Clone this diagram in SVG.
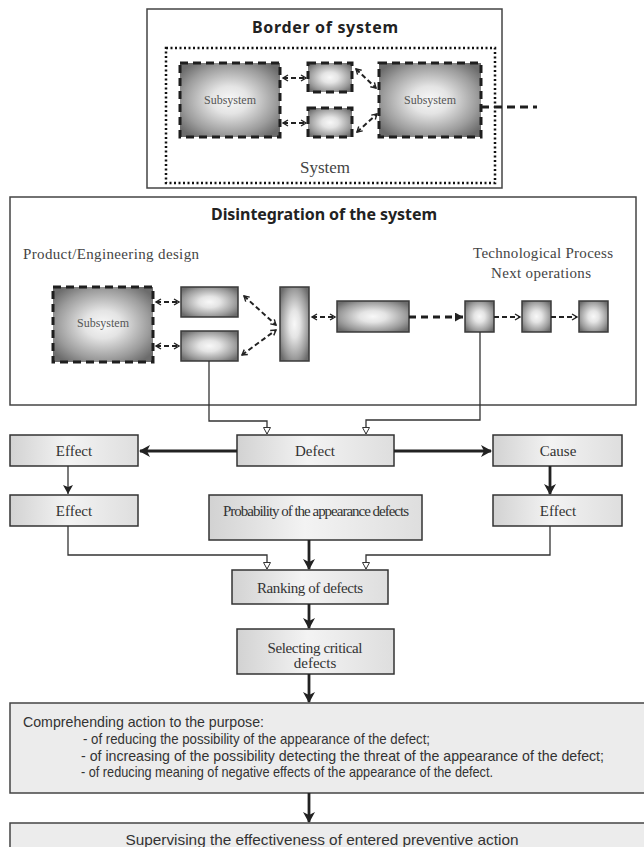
<svg xmlns="http://www.w3.org/2000/svg" width="644" height="847" viewBox="0 0 644 847">
<style>
.frame{fill:#fff;stroke:#444;stroke-width:1.5}
.title{font-family:"Noto Sans","DejaVu Sans",sans-serif;font-weight:bold;font-size:16px;fill:#222;text-anchor:middle}
.serif{font-family:"Liberation Serif","Times New Roman",serif;fill:#444}
.sub{font-family:"Liberation Serif",serif;font-size:12px;fill:#555;text-anchor:middle}
.dsh{fill:url(#gShade);stroke:#1e1e1e;stroke-width:3;stroke-dasharray:8 5}
.sol{fill:url(#gShade);stroke:#3a3a3a;stroke-width:1.5}
.box{fill:url(#gBox);stroke:#333;stroke-width:1.5}
.lbl{font-family:"Liberation Serif",serif;font-size:15px;fill:#333;text-anchor:middle}
.big{fill:#ececec;stroke:#444;stroke-width:1.5}
.sans{font-family:"Liberation Sans",Arial,sans-serif;font-size:14.5px;fill:#333}
.dl{fill:none;stroke:#222;stroke-width:2;stroke-dasharray:5 3}
.thick{fill:none;stroke:#222;stroke-width:2.8}
.thin{fill:none;stroke:#333;stroke-width:1.3}
</style>
<defs>
<radialGradient id="gShade" cx="0.5" cy="0.5" r="0.62">
<stop offset="0" stop-color="#f8f8f8"/>
<stop offset="0.3" stop-color="#e4e4e4"/>
<stop offset="0.75" stop-color="#9c9c9c"/>
<stop offset="1" stop-color="#6c6c6c"/>
</radialGradient>
<linearGradient id="gBox" x1="0" y1="0" x2="1" y2="0">
<stop offset="0" stop-color="#d2d2d2"/>
<stop offset="0.45" stop-color="#f3f3f3"/>
<stop offset="1" stop-color="#dedede"/>
</linearGradient>
<marker id="ah" markerUnits="userSpaceOnUse" markerWidth="12" markerHeight="12" refX="10" refY="6" orient="auto">
<path d="M0,0 L11,6 L0,12 L3,6 z" fill="#222"/>
</marker>
<marker id="ahs" markerUnits="userSpaceOnUse" markerWidth="10" markerHeight="10" refX="9" refY="5" orient="auto">
<path d="M0,0 L9,5 L0,10 L2,5 z" fill="#222"/>
</marker>
<marker id="open" markerUnits="userSpaceOnUse" markerWidth="8" markerHeight="8" refX="7" refY="4" orient="auto">
<path d="M0.5,0.5 L7,4 L0.5,7.5 z" fill="#fff" stroke="#333" stroke-width="1"/>
</marker>
<marker id="chev" markerUnits="userSpaceOnUse" markerWidth="8" markerHeight="8" refX="6" refY="4" orient="auto-start-reverse">
<path d="M1,1 L6,4 L1,7" fill="none" stroke="#222" stroke-width="1.4"/>
</marker>
<marker id="tri" markerUnits="userSpaceOnUse" markerWidth="9" markerHeight="9" refX="8" refY="4.5" orient="auto">
<path d="M0,0 L8,4.5 L0,9 z" fill="#222"/>
</marker>
</defs>

<g id="border-of-system">
<rect class="frame" x="147" y="9" width="355" height="179"/>
<text class="title" x="325" y="33" font-size="17" textLength="146">Border of system</text>
</g>
<g id="system">
<rect x="166" y="48" width="329" height="135" fill="none" stroke="#111" stroke-width="2.5" stroke-dasharray="2 2.5"/>
<text class="serif" x="325" y="173" font-size="17" text-anchor="middle">System</text>
</g>
<g id="top-subsystem-left">
<rect class="dsh" x="180" y="63" width="100" height="74"/>
<text class="sub" x="230" y="104">Subsystem</text>
</g>
<g id="top-small-1"><rect class="dsh" x="308" y="63" width="44" height="29"/></g>
<g id="top-small-2"><rect class="dsh" x="308" y="108" width="44" height="29"/></g>
<g id="top-subsystem-right">
<rect class="dsh" x="379" y="63" width="102" height="74"/>
<text class="sub" x="430" y="104">Subsystem</text>
</g>

<g id="disintegration">
<rect class="frame" x="10" y="197" width="626" height="208"/>
<text class="title" x="324" y="220" font-size="17" textLength="226">Disintegration of the system</text>
<text class="serif" x="23" y="259" font-size="15" textLength="176">Product/Engineering design</text>
<text class="serif" x="543" y="258" font-size="15" text-anchor="middle" textLength="140">Technological Process</text>
<text class="serif" x="541" y="278" font-size="15" text-anchor="middle" textLength="100">Next operations</text>
</g>
<g id="mid-subsystem">
<rect class="dsh" x="53" y="287" width="100" height="75"/>
<text class="sub" x="103" y="327">Subsystem</text>
</g>
<g id="mid-small-1"><rect class="sol" x="181" y="287" width="57" height="30"/></g>
<g id="mid-small-2"><rect class="sol" x="181" y="331" width="57" height="30"/></g>
<g id="mid-tall"><rect class="sol" x="280" y="287" width="29" height="74"/></g>
<g id="mid-wide"><rect class="sol" x="337" y="301" width="72" height="31"/></g>
<g id="op-1"><rect class="sol" x="465" y="301" width="29" height="31"/></g>
<g id="op-2"><rect class="sol" x="522" y="301" width="29" height="31"/></g>
<g id="op-3"><rect class="sol" x="579" y="301" width="29" height="31"/></g>

<g id="effect-1"><rect class="box" x="10" y="435" width="128" height="31"/><text class="lbl" x="74" y="456">Effect</text></g>
<g id="defect"><rect class="box" x="237" y="435" width="157" height="31"/><text class="lbl" x="315" y="456">Defect</text></g>
<g id="cause"><rect class="box" x="493" y="435" width="129" height="31"/><text class="lbl" x="558" y="456">Cause</text></g>
<g id="effect-2"><rect class="box" x="10" y="495" width="128" height="31"/><text class="lbl" x="74" y="516">Effect</text></g>
<g id="probability"><rect class="box" x="209" y="495" width="213" height="45"/><text class="lbl" x="316" y="516" font-size="12.5" textLength="186">Probability of the appearance defects</text></g>
<g id="effect-3"><rect class="box" x="493" y="495" width="129" height="31"/><text class="lbl" x="558" y="516">Effect</text></g>
<g id="ranking"><rect class="box" x="232" y="570" width="156" height="34"/><text class="lbl" x="310" y="593" textLength="106">Ranking of defects</text></g>
<g id="selecting"><rect class="box" x="237" y="629" width="157" height="45"/><text class="lbl" x="315" y="653" textLength="95">Selecting critical</text><text class="lbl" x="315" y="668">defects</text></g>
<g id="comprehending">
<rect class="big" x="10" y="703" width="640" height="90"/>
<text class="sans" x="23" y="727" textLength="241" lengthAdjust="spacingAndGlyphs">Comprehending action to the purpose:</text>
<text class="sans" x="83" y="744" textLength="347" lengthAdjust="spacingAndGlyphs">- of reducing the possibility of the appearance of the defect;</text>
<text class="sans" x="81" y="761" textLength="523" lengthAdjust="spacingAndGlyphs">- of increasing of the possibility detecting the threat of the appearance of the defect;</text>
<text class="sans" x="81" y="777" textLength="412" lengthAdjust="spacingAndGlyphs">- of reducing meaning of negative effects of the appearance of the defect.</text>
</g>
<g id="supervising">
<rect class="big" x="10" y="823" width="640" height="40"/>
<text class="sans" x="322" y="845" font-size="15.5" text-anchor="middle" textLength="393" lengthAdjust="spacingAndGlyphs">Supervising the effectiveness of entered preventive action</text>
</g>

<g id="connectors">
<line class="dl" x1="283" y1="78" x2="306" y2="78" marker-start="url(#chev)" marker-end="url(#chev)"/>
<line class="dl" x1="283" y1="123" x2="306" y2="123" marker-start="url(#chev)" marker-end="url(#chev)"/>
<line class="dl" x1="356" y1="69" x2="376" y2="88" marker-start="url(#chev)" marker-end="url(#chev)"/>
<line class="dl" x1="357" y1="132" x2="377" y2="114" marker-start="url(#chev)" marker-end="url(#chev)"/>
<line x1="481" y1="107" x2="537" y2="107" stroke="#1e1e1e" stroke-width="3" stroke-dasharray="8 5"/>

<line class="dl" x1="156" y1="302" x2="179" y2="302" marker-start="url(#chev)" marker-end="url(#chev)"/>
<line class="dl" x1="156" y1="346" x2="179" y2="346" marker-start="url(#chev)" marker-end="url(#chev)"/>
<line class="dl" x1="244" y1="296" x2="276" y2="325" marker-start="url(#chev)" marker-end="url(#chev)"/>
<line class="dl" x1="242" y1="355" x2="276" y2="330" marker-start="url(#chev)" marker-end="url(#chev)"/>
<line class="dl" x1="312" y1="317" x2="335" y2="317" marker-start="url(#chev)" marker-end="url(#chev)"/>
<line x1="409" y1="317" x2="463" y2="317" stroke="#1e1e1e" stroke-width="3" stroke-dasharray="7 5" marker-end="url(#tri)"/>
<line class="dl" x1="494" y1="317" x2="520" y2="317" marker-end="url(#chev)"/>
<line class="dl" x1="551" y1="317" x2="577" y2="317" marker-end="url(#chev)"/>

<path class="thin" d="M209,361 V421 H267 V434" marker-end="url(#open)"/>
<path class="thin" d="M480,332 V420 H366 V434" marker-end="url(#open)"/>
<line class="thick" x1="237" y1="451" x2="140" y2="451" marker-end="url(#ah)"/>
<line class="thick" x1="394" y1="451" x2="491" y2="451" marker-end="url(#ah)"/>
<line class="thin" x1="68" y1="466" x2="68" y2="494" stroke-width="1.6" marker-end="url(#ahs)"/>
<line class="thick" x1="550" y1="466" x2="550" y2="494" marker-end="url(#ah)"/>
<path class="thin" d="M68,526 V555 H267 V569" marker-end="url(#open)"/>
<path class="thin" d="M550,526 V555 H366 V569" marker-end="url(#open)"/>
<line class="thick" x1="309" y1="540" x2="309" y2="569" marker-end="url(#ah)"/>
<line class="thick" x1="309" y1="604" x2="309" y2="628" marker-end="url(#ah)"/>
<line class="thick" x1="309" y1="674" x2="309" y2="702" marker-end="url(#ah)"/>
<line class="thick" x1="309" y1="793" x2="309" y2="822" marker-end="url(#ah)"/>
</g>
</svg>
